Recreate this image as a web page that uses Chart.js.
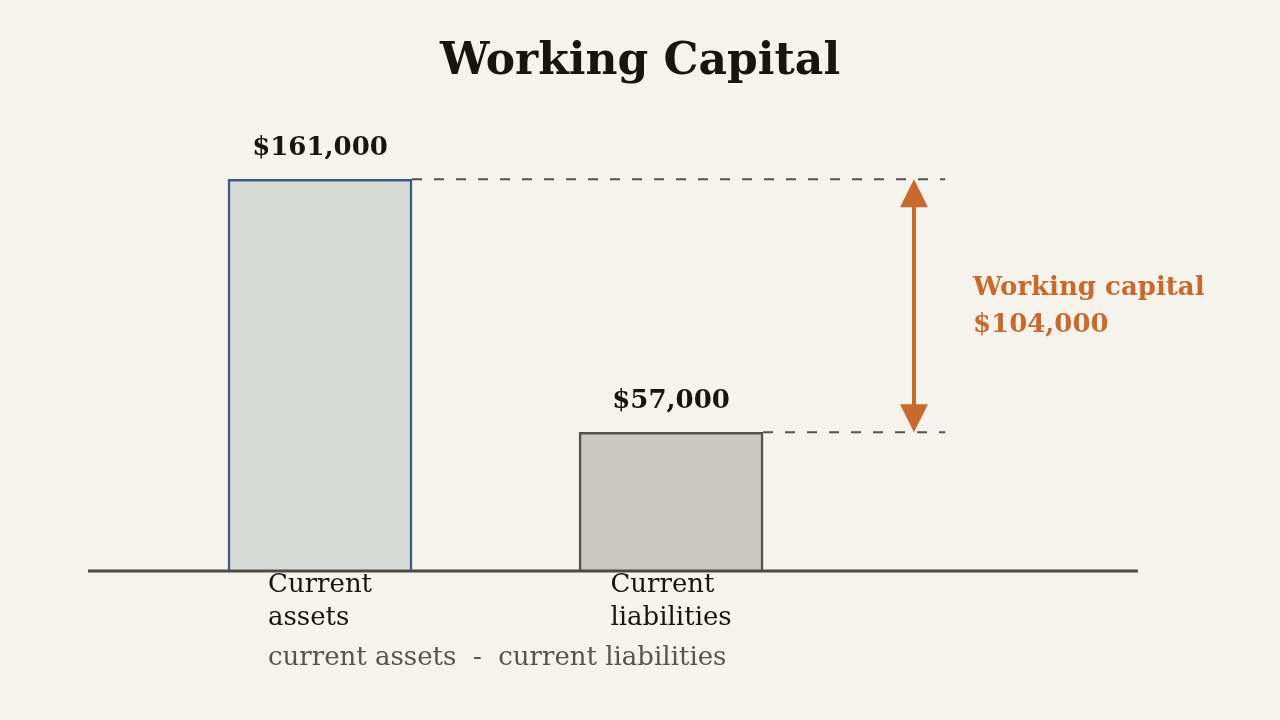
<!DOCTYPE html>
<html>
<head>
<meta charset="utf-8">
<style>
  html, body { margin: 0; padding: 0; background: #f5f3ec; }
  #wrap { width: 1280px; height: 720px; }
</style>
<script src="https://cdn.jsdelivr.net/npm/chart.js@4"></script>
</head>
<body>
<div id="wrap"><canvas id="myChart" width="1280" height="720"></canvas></div>
<script>
const categories = [['Current', 'assets'], ['Current', 'liabilities']];
const values = [161000, 57000];
const valueLabels = ['$161,000', '$57,000'];
const workingCapital = values[0] - values[1];
const wcLabel = ['Working capital', '$104,000'];
const footnote = 'current assets  -  current liabilities';

const serif = 'DejaVu Serif, Liberation Serif, serif';
const orange = '#c76a2c';

const annotations = {
    id: 'annotations',
    afterDatasetsDraw(chart) {
        const ctx = chart.ctx;
        const x = chart.scales.x;
        const y = chart.scales.y;
        const half = 92;
        const y0 = y.getPixelForValue(0);
        const yA = y.getPixelForValue(values[0]);
        const yL = y.getPixelForValue(values[1]);
        const arrowX = x.getPixelForValue(1.692);
        const dashEnd = x.getPixelForValue(1.781);

        ctx.save();
        // baseline
        ctx.strokeStyle = '#4d4b47';
        ctx.lineWidth = 3;
        ctx.beginPath();
        ctx.moveTo(x.getPixelForValue(-0.661), y0);
        ctx.lineTo(x.getPixelForValue(2.33), y0);
        ctx.stroke();

        // dashed guides
        ctx.strokeStyle = '#55524d';
        ctx.lineWidth = 2;
        ctx.setLineDash([10, 12]);
        ctx.beginPath();
        ctx.moveTo(x.getPixelForValue(0) + half, yA);
        ctx.lineTo(dashEnd, yA);
        ctx.moveTo(x.getPixelForValue(1) + half, yL);
        ctx.lineTo(dashEnd, yL);
        ctx.stroke();
        ctx.setLineDash([]);

        // double arrow
        ctx.strokeStyle = orange;
        ctx.fillStyle = orange;
        ctx.lineWidth = 4;
        ctx.beginPath();
        ctx.moveTo(arrowX, yA + 26);
        ctx.lineTo(arrowX, yL - 26);
        ctx.stroke();
        ctx.beginPath();
        ctx.moveTo(arrowX, yA);
        ctx.lineTo(arrowX - 14, yA + 28);
        ctx.lineTo(arrowX + 14, yA + 28);
        ctx.closePath();
        ctx.fill();
        ctx.beginPath();
        ctx.moveTo(arrowX, yL);
        ctx.lineTo(arrowX - 14, yL - 28);
        ctx.lineTo(arrowX + 14, yL - 28);
        ctx.closePath();
        ctx.fill();

        // working capital label
        ctx.font = 'bold 26px ' + serif;
        ctx.textAlign = 'left';
        ctx.textBaseline = 'middle';
        const midY = y.getPixelForValue(values[1] + workingCapital / 2);
        ctx.fillText(wcLabel[0], x.getPixelForValue(1.86), midY - 18);
        ctx.fillText(wcLabel[1], x.getPixelForValue(1.86), midY + 19);

        // value labels
        ctx.fillStyle = '#161512';
        ctx.font = 'bold 26px ' + serif;
        ctx.textAlign = 'center';
        values.forEach((v, i) => {
            ctx.fillText(valueLabels[i], x.getPixelForValue(i), y.getPixelForValue(v) - 31);
        });

        // category labels: left aligned block centred on bar
        ctx.font = '26px ' + serif;
        ctx.textAlign = 'left';
        categories.forEach((lines, i) => {
            const w = Math.max(...lines.map(l => ctx.measureText(l).width));
            const left = x.getPixelForValue(i) - w / 2;
            lines.forEach((l, j) => {
                ctx.fillText(l, left, y0 + 14 + j * 33);
            });
        });

        // formula footnote
        ctx.fillStyle = '#58544d';
        const w0 = Math.max(...categories[0].map(l => ctx.measureText(l).width));
        ctx.fillText(footnote, x.getPixelForValue(0) - w0 / 2, y0 + 87);
        ctx.restore();
    }
};

new Chart(document.getElementById('myChart'), {
    type: 'bar',
    data: {
        datasets: [{
            data: values.map((v, i) => ({ x: i, y: v })),
            backgroundColor: ['#d9dbd9', '#cbc8c1'],
            borderColor: ['#3f5a80', '#55524d'],
            borderWidth: 2.5,
            borderSkipped: 'bottom',
            barThickness: 184
        }]
    },
    plugins: [annotations],
    options: {
        responsive: false,
        animation: false,
        layout: { padding: { left: 88, right: 88, top: 0, bottom: 149 } },
        scales: {
            x: { type: 'linear', min: -0.661, max: 2.484, offset: false, display: false },
            y: { min: 0, max: 179600, display: false }
        },
        plugins: {
            legend: { display: false },
            tooltip: { enabled: false },
            title: {
                display: true,
                text: 'Working Capital',
                color: '#161512',
                font: { family: serif, size: 44, weight: 'bold', lineHeight: 1.2 },
                padding: { top: 36, bottom: 45.2 }
            }
        }
    }
});
</script>
</body>
</html>
